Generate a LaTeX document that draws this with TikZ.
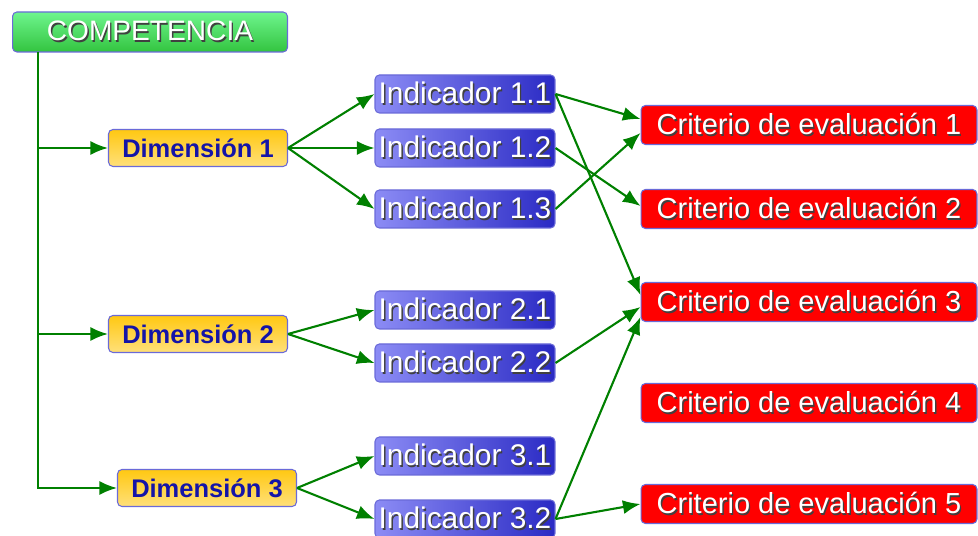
\documentclass[tikz,border=0pt]{standalone}
\usepackage{fontspec}
\setmainfont{Liberation Sans}
\usepackage{xcolor}
\usetikzlibrary{arrows.meta,calc}
\definecolor{verde}{HTML}{008000}
\definecolor{borde}{HTML}{6A6AD8}
\definecolor{compA}{HTML}{6EF58E}
\definecolor{compB}{HTML}{33C43F}
\definecolor{dimA}{HTML}{FFC812}
\definecolor{dimB}{HTML}{FFE07A}
\definecolor{dimtxt}{HTML}{1414A8}
\definecolor{indA}{HTML}{8C8CF5}
\definecolor{indB}{HTML}{2A2AC4}
\definecolor{rojo}{HTML}{FF0000}
\newcommand{\txtsombra}[1]{\makebox[0pt][l]{\hspace{0.8pt}\raisebox{-0.8pt}{\textcolor{black!75}{#1}}}#1}
\tikzset{
  caja/.style={draw=borde, line width=0.6pt, rounded corners=2.5pt, inner sep=0pt},
  comp/.style={caja, top color=compA, bottom color=compB, text=white,
    minimum width=5.5cm, minimum height=0.8cm, font=\fontsize{16}{16}\selectfont},
  dim/.style={caja, top color=dimA, bottom color=dimB, text=dimtxt,
    minimum width=3.58cm, minimum height=0.74cm, font=\fontsize{14.5}{14.5}\selectfont\bfseries},
  ind/.style={caja, left color=indA, right color=indB, text=white,
    minimum width=3.6cm, minimum height=0.76cm, font=\fontsize{17}{17}\selectfont},
  crit/.style={caja, fill=rojo, text=white,
    minimum width=6.72cm, minimum height=0.78cm, font=\fontsize{16.5}{16.5}\selectfont},
  linea/.style={draw=verde, line width=1.2pt},
  flecha/.style={linea, -{Latex[length=10pt,width=8pt]}}
}
\begin{document}
\begin{tikzpicture}[x=0.02cm,y=-0.02cm]
  \useasboundingbox (0,0) rectangle (978,536);

  \node[comp] (comp) at (150,32) {\txtsombra{COMPETENCIA}};

  \node[dim] (d1) at (198,148) {Dimensión 1};
  \node[dim] (d2) at (198,334) {Dimensión 2};
  \node[dim] (d3) at (207,488) {Dimensión 3};

  \node[ind] (i11) at (465,94)  {\txtsombra{Indicador 1.1}};
  \node[ind] (i12) at (465,148) {\txtsombra{Indicador 1.2}};
  \node[ind] (i13) at (465,209) {\txtsombra{Indicador 1.3}};
  \node[ind] (i21) at (465,310) {\txtsombra{Indicador 2.1}};
  \node[ind] (i22) at (465,363) {\txtsombra{Indicador 2.2}};
  \node[ind] (i31) at (465,456) {\txtsombra{Indicador 3.1}};
  \node[ind] (i32) at (465,519) {\txtsombra{Indicador 3.2}};

  \node[crit] (c1) at (809,125) {\txtsombra{Criterio de evaluación 1}};
  \node[crit] (c2) at (809,209) {\txtsombra{Criterio de evaluación 2}};
  \node[crit] (c3) at (809,302) {\txtsombra{Criterio de evaluación 3}};
  \node[crit] (c4) at (809,403) {\txtsombra{Criterio de evaluación 4}};
  \node[crit] (c5) at (809,504) {\txtsombra{Criterio de evaluación 5}};

  % tronco
  \coordinate (tr) at (38,52);
  \draw[flecha] (tr) |- (d3.west);
  \draw[flecha] (tr |- d1.west) -- (d1.west);
  \draw[flecha] (tr |- d2.west) -- (d2.west);

  % dimensiones -> indicadores
  \draw[flecha] (d1.east) -- (i11.west);
  \draw[flecha] (d1.east) -- (i12.west);
  \draw[flecha] (d1.east) -- (i13.west);
  \draw[flecha] (d2.east) -- (i21.west);
  \draw[flecha] (d2.east) -- (i22.west);
  \draw[flecha] (d3.east) -- (i31.west);
  \draw[flecha] (d3.east) -- (i32.west);

  % indicadores -> criterios
  \draw[flecha] (i11.east) -- ([yshift=0.12cm]c1.west);
  \draw[flecha] (i13.east) -- ([yshift=-0.16cm]c1.west);
  \draw[flecha] (i12.east) -- ([yshift=0.06cm]c2.west);
  \draw[flecha] (i11.east) -- ([yshift=0.14cm]c3.west);
  \draw[flecha] (i22.east) -- ([yshift=-0.1cm]c3.west);
  \draw[flecha] (i32.east) -- ([yshift=-0.3cm]c3.west);
  \draw[flecha] (i32.east) -- (c5.west);
\end{tikzpicture}
\end{document}
